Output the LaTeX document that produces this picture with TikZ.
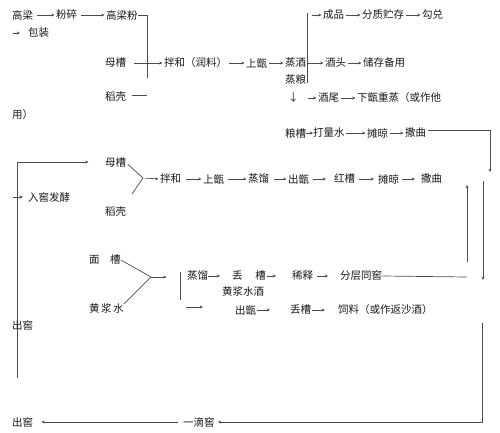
\documentclass[tikz,border=0pt]{standalone}
\usepackage{fontspec}
\newfontfamily\cjk{Noto Sans CJK SC}
\usetikzlibrary{arrows.meta}
\tikzset{
  t/.style={anchor=west, inner sep=0pt, font=\cjk\fontsize{10.5}{12}\selectfont, text=black!90},
  ln/.style={draw=black!70, line width=0.7pt},
  arr/.style={ln, -{Stealth[length=3.2pt,width=3pt]}, shorten <=1.5pt, shorten >=1.5pt},
}
\begin{document}
\begin{tikzpicture}[x=1pt,y=-1pt]
\useasboundingbox (0,0) rectangle (500,433);
% ---- row 1
\node[t] (gl) at (12,15) {高梁};
\node[t] (fs) at (56,15) {粉碎};
\node[t] (glf) at (106,15) {高梁粉};
\draw[arr,shorten <=4pt] (gl.east) -- (fs.west);
\draw[arr,shorten <=4pt] (fs.east) -- (glf.west);
\coordinate (c1) at (147,78);
\draw[ln] (glf.east) -| (c1);
% ---- row 2
\coordinate (bz0) at (11,33);
\node[t] (bz) at (28,33) {包装};
\draw[arr,shorten >=8pt] (bz0) -- (bz.west);
% ---- row 3
\node[t] (mc1) at (105,63) {母槽};
\node[t] (bh1) at (164,63) {拌和（润料）};
\node[t] (sz1) at (246,63) {上甑};
\node[t] (zj) at (285,63) {蒸酒};
\node[t] (jt) at (325,63) {酒头};
\node[t] (cc) at (363,63) {储存备用};
\draw[arr,shorten <=8pt] (mc1.east) -- (bh1.west);
\draw[arr] (bh1.east) -- (sz1.west);
\draw[arr] (sz1.east) -- (zj.west);
\draw[arr] (zj.east) -- (jt.west);
\draw[arr] (jt.east) -- (cc.west);
\node[t] (dk1) at (105,97) {稻壳};
\coordinate (dk1s) at (132,95);
\coordinate (dk1e) at (147,95);
\draw[ln] (dk1s) -- (dk1e);
\coordinate (v1a) at (307,13);
\coordinate (v1b) at (307,83);
\draw[ln] (v1a) -- (v1b);
\coordinate (cp0) at (310,15);
\node[t] (cp) at (323,15) {成品};
\node[t] (fz) at (362,15) {分质贮存};
\node[t] (gd) at (422,15) {勾兑};
\draw[arr] (cp0) -- (cp.west);
\draw[arr] (cp.east) -- (fz.west);
\draw[arr] (fz.east) -- (gd.west);
\node[t] (zl) at (285,80) {蒸粮};
\node[t] (dn) at (288,98) {↓};
\coordinate (jw0) at (306,98);
\node[t] (jw) at (318,98) {酒尾};
\node[t] (xz) at (357,98) {下甑重蒸（或作他};
\draw[arr] (jw0) -- (jw.west);
\draw[arr] (jw.east) -- (xz.west);
\node[t] (yong) at (12,115) {用）};
% ---- row y=133
\node[t] (lc) at (285,133) {粮槽};
\node[t] (dl) at (313,133) {打量水};
\node[t] (tl1) at (367,133) {摊晾};
\node[t] (sq1) at (405,133) {撒曲};
\draw[arr,shorten <=0pt,shorten >=0pt] (lc.east) -- (dl.west);
\draw[arr] (dl.east) -- (tl1.west);
\draw[arr] (tl1.east) -- (sq1.west);
\coordinate (r1) at (490,130);
\coordinate (r1b) at (490,172);
\draw[arr,shorten >=0pt] (sq1.east |- r1) -- (r1) -- (r1b);
% ---- row y=179
\node[t] (mc2) at (105,163) {母槽};
\node[t] (dk2) at (105,212) {稻壳};
\coordinate (j1) at (143,178);
\coordinate (j1b) at (132,194);
\draw[ln,shorten <=2pt] (mc2.east) -- (j1);
\draw[ln] (j1b) -- (j1);
\node[t] (bh2) at (160,179) {拌和};
\node[t] (sz2) at (203,179) {上甑};
\node[t] (zl2) at (248,179) {蒸馏};
\node[t] (cz2) at (288,179) {出甑};
\node[t] (hc) at (334,179) {红槽};
\node[t] (tl2) at (378,179) {摊晾};
\node[t] (sq2) at (421,179) {撒曲};
\draw[arr,shorten <=2pt] (j1) -- (bh2.west);
\draw[arr,shorten <=5pt] (bh2.east) -- (sz2.west);
\draw[arr,shorten <=4pt] (sz2.east) -- (zl2.west);
\draw[arr,shorten <=5pt] (zl2.east) -- (cz2.west);
\draw[arr,shorten <=4pt,shorten >=8pt] (cz2.east) -- (hc.west);
\draw[arr,shorten <=4pt,shorten >=4pt] (hc.east) -- (tl2.west);
\draw[arr,shorten <=3pt,shorten >=6pt] (tl2.east) -- (sq2.west);
% ---- left loop
\coordinate (L0) at (17,378);
\coordinate (L1) at (17,162);
\coordinate (L2) at (90,162);
\draw[arr,shorten <=0pt] (L0) -- (L1) -- (L2);
\coordinate (rj0) at (11,197);
\node[t] (rj) at (28,197) {入窖发酵};
\draw[arr,shorten >=5pt] (rj0) -- (rj.west);
\node[t] (cj1) at (12,325) {出窖};
% ---- lower block
\node[t] (mc3) at (89,260) {面\hspace{1em}槽};
\node[t] (hj) at (89,309) {黄\hspace{1.5pt}浆\hspace{1.5pt}水};
\coordinate (j2) at (151,277);
\coordinate (j2e) at (168,277);
\draw[ln] (mc3.east) -- (j2);
\draw[ln] (hj.north east) -- (j2);
\draw[arr,shorten <=0pt] (j2) -- (j2e);
\coordinate (v2a) at (180,272);
\coordinate (v2b) at (180,300);
\draw[ln] (v2a) -- (v2b);
\coordinate (a3a) at (186,307);
\coordinate (a3b) at (203,307);
\draw[arr,shorten <=0pt,shorten >=0pt] (a3a) -- (a3b);
\node[t] (zl3) at (187,276) {蒸馏};
\node[t] (dc3) at (232,276) {丢\hspace{1.2em}槽};
\node[t] (xs) at (292,276) {稀释};
\node[t] (fc) at (340,276) {分层同窖};
\draw[arr,shorten <=0pt,shorten >=12pt] (zl3.east) -- (dc3.west);
\draw[arr,shorten <=1pt,shorten >=16pt] (dc3.east) -- (xs.west);
\draw[arr,shorten <=4pt,shorten >=12pt] (xs.east) -- (fc.west);
\coordinate (R2) at (467,277);
\draw[ln] (fc.east) -- (R2);
\node[t] (hjj) at (222,292) {黄浆水酒};
\node[t] (cz4) at (235,310) {出甑};
\node[t] (dc4) at (290,310) {丢槽};
\node[t] (sl) at (338,310) {饲料（或作返沙酒）};
\draw[arr,shorten <=1pt,shorten >=20pt] (cz4.east) -- (dc4.west);
\draw[arr,shorten <=1pt,shorten >=13pt] (dc4.east) -- (sl.west);
% ---- right side
\coordinate (R3a) at (483,181);
\coordinate (R3b) at (483,280);
\draw[arr,shorten <=0pt,shorten >=0pt] (R3a) -- (R3b);
\coordinate (R4a) at (467,262);
\coordinate (R4b) at (467,185);
\draw[arr,shorten <=0pt,shorten >=0pt] (R4a) -- (R4b);
\coordinate (R5a) at (482,323);
\coordinate (R5b) at (482,422);
\node[t] (ydj) at (183,422) {一滴窖};
\node[t] (cj2) at (12,422) {出窖};
\draw[arr,shorten <=0pt,shorten >=3pt] (R5a) -- (R5b) -- (ydj.east);
\draw[arr,shorten <=5pt,shorten >=8pt] (ydj.west) -- (cj2.east);
\end{tikzpicture}
\end{document}
